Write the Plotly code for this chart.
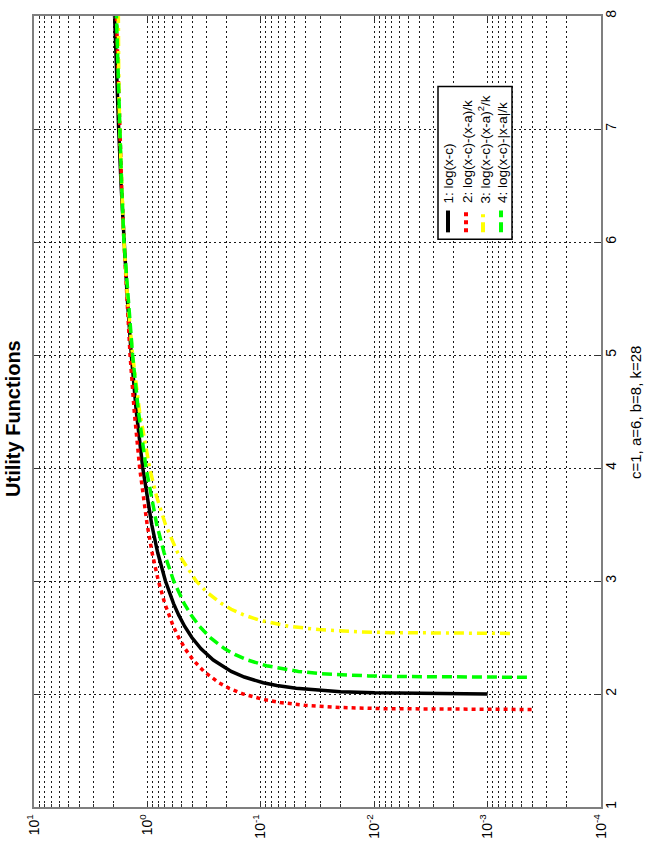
import plotly.graph_objects as go

# ---------------- data ----------------
# curve 1: log(x-c)
x_black = [2.001, 2.002, 2.005, 2.01, 2.02, 2.03, 2.05, 2.075, 2.1, 2.15, 2.2, 2.3, 2.4, 2.5,
           2.6, 2.7, 2.8, 3.0, 3.25, 3.5, 4.0, 4.5, 5.0, 5.5, 6.0, 6.5, 7.0, 7.5, 8.0]
u_black = [0.0009995, 0.001998, 0.0049875, 0.0099503, 0.0198026, 0.0295588, 0.0487902, 0.0723207,
           0.0953102, 0.1397619, 0.1823216, 0.2623643, 0.3364722, 0.4054651, 0.4700036, 0.5306283,
           0.5877867, 0.6931472, 0.8109302, 0.9162907, 1.0986123, 1.252763, 1.3862944, 1.5040774,
           1.6094379, 1.7047481, 1.7917595, 1.8718022, 1.9459101]

# curve 2: log(x-c)-(x-a)/k
x_red = [1.863, 1.864, 1.866, 1.87, 1.88, 1.9, 1.925, 1.95, 2.0, 2.05, 2.1, 2.2, 2.3, 2.4, 2.5,
         2.6, 2.8, 3.0, 3.25, 3.5, 4.0, 4.5, 5.0, 5.5, 6.0, 6.5, 7.0, 7.5, 8.0]
u_red = [0.0004094, 0.001534, 0.003784, 0.0082379, 0.0193095, 0.0410681, 0.0675742, 0.0933496,
         0.1428571, 0.1898616, 0.2345959, 0.3180359, 0.3945072, 0.4650436, 0.5304651, 0.5914322,
         0.7020724, 0.8002901, 0.9091445, 1.0055764, 1.1700409, 1.3063344, 1.4220087, 1.5219345,
         1.6094379, 1.686891, 1.7560452, 1.8182308, 1.8744815]

# curve 3: log(x-c)-(x-a)^2/k
x_yellow = [2.536, 2.537, 2.539, 2.543, 2.55, 2.56, 2.57, 2.6, 2.625, 2.65, 2.7, 2.75, 2.8, 2.9,
            3.0, 3.25, 3.5, 3.75, 4.0, 4.5, 5.0, 5.5, 6.0, 6.5, 7.0, 7.5, 8.0]
u_yellow = [0.0006353, 0.001534, 0.003332, 0.006916, 0.0131656, 0.0220572, 0.0309006, 0.0571465,
            0.0786998, 0.0999717, 0.1416997, 0.1823837, 0.2220724, 0.2986396, 0.3717186, 0.5408409,
            0.6930764, 0.8307973, 0.9557552, 1.1724059, 1.3505801, 1.4951488, 1.6094379, 1.6958195,
            1.7560452, 1.7914451, 1.803053]

# curve 4: log(x-c)-|x-a|/k
x_green = [2.148, 2.149, 2.151, 2.155, 2.16, 2.17, 2.18, 2.2, 2.225, 2.25, 2.3, 2.35, 2.4, 2.5,
           2.6, 2.7, 2.8, 3.0, 3.25, 3.5, 4.0, 4.5, 5.0, 5.5, 6.0, 6.5, 7.0, 7.5, 8.0]
u_green = [0.0004498, 0.001357, 0.00317, 0.0067789, 0.0112771, 0.020218, 0.0290858, 0.0466073,
           0.0681195, 0.089215, 0.1302214, 0.1697475, 0.2079008, 0.2804651, 0.348575, 0.4127712,
           0.473501, 0.5860043, 0.7127159, 0.827005, 1.0271837, 1.1991916, 1.3505801, 1.4862203,
           1.6094379, 1.686891, 1.7560452, 1.8182308, 1.8744815]

legend_labels = ["1: log(x-c)", "2: log(x-c)-(x-a)/k",
                 "3: log(x-c)-(x-a)<sup>2</sup>/k", "4: log(x-c)-|x-a|/k"]
log_tickvals = [10, 1, 0.1, 0.01, 0.001, 0.0001]
log_ticktext = ["10<sup>1</sup>", "10<sup>0</sup>", "10<sup>-1</sup>",
                "10<sup>-2</sup>", "10<sup>-3</sup>", "10<sup>-4</sup>"]
lin_tickvals = [1, 2, 3, 4, 5, 6, 7, 8]
title_text = "Utility Functions"
xlabel_text = "c=1, a=6, b=8, k=28"

# ---------------- styles ----------------
colors = ["#000000", "#ff0000", "#ffff00", "#00ff00"]
dashes = ["solid", "4px,4px", "10px,5px,3px,5px", "10px,5px"]
FONT = "Liberation Sans, Arial, Helvetica, sans-serif"
GRID = "rgba(0,0,0,0.9)"
GRIDDASH = "2px,3px"

W, H = 645, 854
L, R, T, B = 34, 44, 10, 47
pw, ph = W - L - R, H - T - B


def px2paper(px, py):
    return (px - L) / pw, (H - B - py) / ph


fig = go.Figure()
series = [(x_black, u_black), (x_red, u_red), (x_yellow, u_yellow), (x_green, u_green)]
for (xs, us), col, dsh, lab in zip(series, colors, dashes, legend_labels):
    fig.add_trace(go.Scatter(x=us, y=xs, mode="lines", name=lab, showlegend=False,
                             line=dict(color=col, width=3.5, dash=dsh)))

minor_vals = [m * 10.0 ** e for e in range(-4, 1) for m in range(2, 10)]

fig.update_layout(
    width=W, height=H, autosize=False,
    margin=dict(l=L, r=R, t=T, b=B, pad=0),
    paper_bgcolor="white", plot_bgcolor="white",
    font=dict(family=FONT, size=13, color="black"),
    showlegend=False,
    xaxis=dict(
        type="log", range=[1, -4],
        tickmode="array", tickvals=log_tickvals, ticktext=log_ticktext,
        tickangle=-90, tickfont=dict(size=14),
        ticks="inside", ticklen=6, tickcolor="#333",
        showline=True, linecolor="#7f7f7f", linewidth=1.5, mirror="allticks",
        showgrid=True, gridcolor=GRID, gridwidth=1, griddash=GRIDDASH,
        zeroline=False,
        minor=dict(tickvals=minor_vals, ticks="inside", ticklen=3, tickcolor="#333",
                   showgrid=True, gridcolor=GRID, gridwidth=1, griddash=GRIDDASH),
    ),
    yaxis=dict(
        range=[1, 8], side="right",
        tickmode="array", tickvals=lin_tickvals,
        tickangle=-90, tickfont=dict(size=14),
        ticks="inside", ticklen=7, tickcolor="#333",
        ticklabelstandoff=-4,
        showline=True, linecolor="#7f7f7f", linewidth=1.5, mirror="allticks",
        showgrid=True, gridcolor=GRID, gridwidth=1, griddash=GRIDDASH,
        zeroline=False,
    ),
)

# title and axis label (rotated, as in the reference)
tx, ty = px2paper(13, 416)
fig.add_annotation(text="<b>" + title_text + "</b>", x=tx, y=ty, xref="paper", yref="paper",
                   textangle=-90, showarrow=False, xanchor="center", yanchor="middle",
                   font=dict(size=20, family=FONT, color="black"))
lx, ly = px2paper(636, 410)
fig.add_annotation(text=xlabel_text, x=lx, y=ly, xref="paper", yref="paper",
                   textangle=-90, showarrow=False, xanchor="center", yanchor="middle",
                   font=dict(size=15, family=FONT, color="black"))

# rotated legend box
bx0, by0 = px2paper(438, 235)
bx1, by1 = px2paper(512, 81)
fig.add_shape(type="rect", xref="paper", yref="paper", x0=bx0, y0=by0, x1=bx1, y1=by1,
              line=dict(color="black", width=1.5), fillcolor="white", layer="above")
entry_px = [448, 466, 483, 501]
for cx, col, dsh, lab in zip(entry_px, colors, dashes, legend_labels):
    sx, sy0 = px2paper(cx, 228)
    _, sy1 = px2paper(cx, 206)
    fig.add_shape(type="line", xref="paper", yref="paper", x0=sx, x1=sx, y0=sy0, y1=sy1,
                  line=dict(color=col, width=4, dash=dsh), layer="above")
    ax_, ay_ = px2paper(cx + 1, 201)
    fig.add_annotation(text=lab, x=ax_, y=ay_, xref="paper", yref="paper", textangle=-90,
                       showarrow=False, xanchor="center", yanchor="bottom",
                       font=dict(size=13.5, family=FONT, color="black"))

fig.write_html("out.html")
